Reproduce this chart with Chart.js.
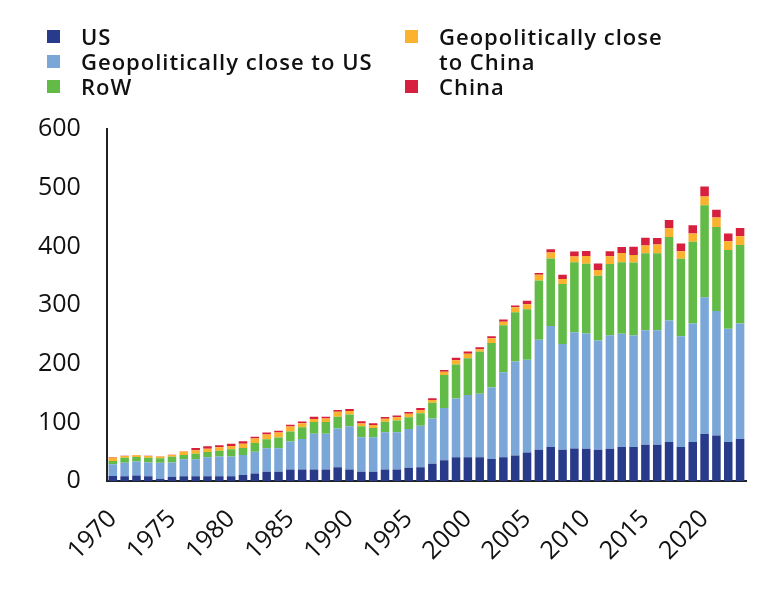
<!DOCTYPE html>
<html><head><meta charset="utf-8">
<script src="https://cdn.jsdelivr.net/npm/chart.js@4"></script>
<style>
body{margin:0;background:#fff;}
#wrap{position:relative;width:760px;height:596px;}
#legend{position:absolute;left:0;top:0;width:760px;height:110px;font-family:"Open Sans",sans-serif;font-weight:600;font-size:22px;letter-spacing:1px;color:#111;line-height:25px;}
.item{position:absolute;}
.sw{position:absolute;width:13px;height:13px;left:0;top:6px;}
.tx{position:absolute;left:34px;top:0;white-space:nowrap;}
</style></head>
<body><div id="wrap"><canvas id="c" width="760" height="596"></canvas><div id="legend"></div></div>
<script>
const years = [1970,1971,1972,1973,1974,1975,1976,1977,1978,1979,1980,1981,1982,1983,1984,1985,1986,1987,1988,1989,1990,1991,1992,1993,1994,1995,1996,1997,1998,1999,2000,2001,2002,2003,2004,2005,2006,2007,2008,2009,2010,2011,2012,2013,2014,2015,2016,2017,2018,2019,2020,2021,2022,2023];
const us = [9,8.5,10,8.5,4.5,8,8.5,8.5,8.5,8.5,8.5,11,13.5, 16.5,16.5,20,20,20,20,24,20,16.5,16.5,20,20,23,24, 30,36,41,41,41,38,41,44,49,54,58.5,54,56, 55.7,54,55.7,58.5,58.5,62.5,62.5,67,58.5,67,80.6,78,67,72];
const geoUS = [20,23,24,23.5,27,24,29,29,32.5,34,34,34,37, 40,40,48,52,61,61,66,74,58.5,58.5,63.5,63.5,66,70.5, 77,89,100,106,108,122,145,160,158,187,206,180,198, 196,186,193,193,190,195,195,207,188.5,202,233,212,193,197];
const row = [5.7,8.5,7.4,8,8,10,7.4,9.7,9,9.7,12,12,15, 15,18,17,20,20,20,20,20,19,16,18,20,20,21.5, 27,56,58,62.5,71.5,75.5,80,84,86,101,115,102,119, 119,110,121.5,121.5,124,131,131,142,132,139,156.5,143,134,133.5];
const geoChina = [5.7,3,3,3,3,3,6,5.7,5.7,5.7,5.7,7,7.4, 8.5,8.5,8.5,7,5,6,8.5,6,4.5,5,5,5.7,6,5.7, 4.5,5.7,7.4,8,4.5,8,5.7,8.5,8.5,10,10,8.5,9.7, 13,10,13,16,13,13,15,15,13,14,15,16.5,15,15];
const china = [0.5,0.5,0.5,0.5,0.3,0.5,0.5,4,4,3.5,4,4.5,3, 3,3,3,3,4,3,3,3,4,3,3,3,3,3, 3,3,4,3.5,3.5,3.5,4,3,6,3,5.7,7.4,8.5, 8.5,11,8.5,10,14,13.5,11,14,13,14,17,13,13,14];
const seriesNames = ["US","Geopolitically close to US","RoW","Geopolitically close to China","China"];
const yTicks = [0,100,200,300,400,500,600];

const colors = ["#283a8a","#7ba6d8","#63bb47","#fbb22e","#d71f3e"];
const legendPos = [[47,24],[47,49],[47,74],[405,24],[405,74]];
const legendText = ["US","Geopolitically close to US","RoW","Geopolitically close<br>to China","China"];

const lg = document.getElementById('legend');
seriesNames.forEach((n,i)=>{
  const d=document.createElement('div');d.className='item';
  d.style.left=legendPos[i][0]+'px';d.style.top=legendPos[i][1]+'px';
  d.innerHTML='<div class="sw" style="background:'+colors[i]+'"></div><div class="tx">'+legendText[i]+'</div>';
  lg.appendChild(d);
});

const data=[us,geoUS,row,geoChina,china];
new Chart(document.getElementById('c'),{
  type:'bar',
  data:{labels:years,datasets:seriesNames.map((n,i)=>({label:n,data:data[i],backgroundColor:colors[i],borderWidth:0,barPercentage:0.72,categoryPercentage:1}))},
  options:{
    responsive:false,animation:false,
    layout:{padding:{top:129,left:12,right:14,bottom:7}},
    plugins:{legend:{display:false},tooltip:{enabled:false}},
    scales:{
      x:{stacked:true,grid:{display:false,drawTicks:false},border:{display:true,color:'#222',width:2},
        afterFit:(s)=>{s.paddingRight=0;s.paddingLeft=0;},
        ticks:{autoSkip:false,maxRotation:45,minRotation:45,padding:23,color:'#111',font:{family:'Open Sans',size:25,weight:'500'},
          callback:function(v,i){const y=years[i];return y%5===0?String(y):'';}}},
      y:{stacked:true,min:0,max:600,afterBuildTicks:(s)=>{s.ticks=yTicks.map(v=>({value:v}));},
        grid:{display:false,drawTicks:false},border:{display:true,color:'#222',width:2},
        ticks:{padding:26,color:'#111',font:{family:'Open Sans',size:25,weight:'500'}}}
    }
  }
});
</script>
</body></html>
